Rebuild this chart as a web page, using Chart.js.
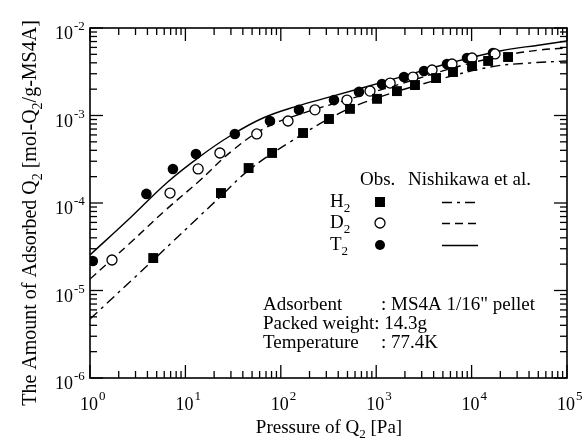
<!DOCTYPE html>
<html>
<head>
<meta charset="utf-8">
<script src="https://cdn.jsdelivr.net/npm/chart.js@4.4.0/dist/chart.umd.min.js"></script>
<style>
  html, body { margin: 0; padding: 0; background: #fff; }
  #wrap { position: relative; width: 583px; height: 440px; }
</style>
</head>
<body>
<div id="wrap"><canvas id="isotherm"></canvas></div>
<script>
// Observed adsorption amounts [mol-Q2/g-MS4A] vs pressure [Pa]
const h2Pressure = [4.6, 23.6, 46, 81, 171, 320, 531, 1020, 1650, 2550, 4240, 6380, 10100, 14900, 24100];
const h2Amount   = [2.35e-5, 1.30e-4, 2.51e-4, 3.73e-4, 6.31e-4, 9.12e-4, 1.19e-3, 1.55e-3, 1.90e-3, 2.23e-3, 2.68e-3, 3.14e-3, 3.68e-3, 4.20e-3, 4.66e-3];

const d2Pressure = [1.7, 6.9, 13.6, 23, 56, 119, 228, 494, 861, 1400, 2430, 3850, 6230, 10100, 17600];
const d2Amount   = [2.23e-5, 1.30e-4, 2.45e-4, 3.73e-4, 6.15e-4, 8.65e-4, 1.16e-3, 1.50e-3, 1.90e-3, 2.35e-3, 2.75e-3, 3.31e-3, 3.88e-3, 4.54e-3, 5.05e-3];

const t2Pressure = [1.07, 3.9, 7.4, 12.9, 33, 77, 155, 361, 660, 1150, 1955, 3170, 5520, 8950, 16750];
const t2Amount   = [2.17e-5, 1.27e-4, 2.45e-4, 3.63e-4, 6.15e-4, 8.65e-4, 1.16e-3, 1.50e-3, 1.86e-3, 2.29e-3, 2.75e-3, 3.23e-3, 3.88e-3, 4.54e-3, 5.18e-3];

// Nishikawa et al. correlation curves
const h2CurveP = [1, 4.26, 23.6, 46.4, 125, 418, 1096, 3664, 15600, 40900, 100000];
const h2CurveQ = [4.72e-6, 2.06e-5, 1.20e-4, 2.38e-4, 4.98e-4, 1.07e-3, 1.63e-3, 2.42e-3, 3.58e-3, 3.98e-3, 4.20e-3];

const d2CurveP = [1, 2.63, 6.2, 13.6, 31.6, 71.7, 188, 418, 1778, 7550, 23500, 52100, 100000];
const d2CurveQ = [1.35e-5, 3.49e-5, 8.3e-5, 1.74e-4, 4.04e-4, 7.40e-4, 1.10e-3, 1.43e-3, 2.29e-3, 3.68e-3, 4.91e-3, 5.61e-3, 5.91e-3];

const t2CurveP = [1, 2.63, 6.57, 14.2, 29.3, 65.1, 148, 328, 1395, 5936, 19850, 52100, 100000];
const t2CurveQ = [2.55e-5, 6.74e-5, 1.75e-4, 3.40e-4, 5.83e-4, 9.36e-4, 1.28e-3, 1.63e-3, 2.54e-3, 3.98e-3, 5.46e-3, 6.40e-3, 7.10e-3];

// axis decades and the minor steps inside each decade
const xExps = [0, 1, 2, 3, 4, 5];
const yExps = [-6, -5, -4, -3, -2];
const subSteps = [2, 3, 4, 5, 6, 7, 8, 9];

const SERIF = '"Liberation Serif", "DejaVu Serif", serif';

function pts(xs, ys) {
  return xs.map((v, i) => ({ x: v, y: ys[i] }));
}

// draws text made of runs; run.s = 'sub' | 'sup' | undefined
function richText(ctx, runs, x, y, size) {
  let cx = x;
  runs.forEach(r => {
    const small = r.s ? Math.round(size * 0.68) : size;
    ctx.font = small + 'px ' + SERIF;
    let dy = 0;
    if (r.s === 'sub') dy = size * 0.28;
    if (r.s === 'sup') dy = -size * 0.42;
    ctx.fillText(r.t, cx, y + dy);
    cx += ctx.measureText(r.t).width;
  });
  return cx - x;
}

function richWidth(ctx, runs, size) {
  let w = 0;
  runs.forEach(r => {
    ctx.font = (r.s ? Math.round(size * 0.68) : size) + 'px ' + SERIF;
    w += ctx.measureText(r.t).width;
  });
  return w;
}

const frame = {
  id: 'frame',
  afterDraw(chart) {
    const { ctx, chartArea: a, scales: { x, y } } = chart;
    ctx.save();
    ctx.fillStyle = '#000';
    ctx.strokeStyle = '#000';
    ctx.textBaseline = 'alphabetic';
    ctx.textAlign = 'left';

    // bottom / top: inward ticks and 10^n labels
    xExps.forEach((e, idx) => {
      const px = x.getPixelForValue(Math.pow(10, e));
      ctx.fillRect(px - 0.65, a.bottom - 13, 1.3, 13);
      ctx.fillRect(px - 0.65, a.top, 1.3, 13);
      if (idx !== xExps.length - 1) {
        subSteps.forEach(k => {
          const mx = x.getPixelForValue(k * Math.pow(10, e));
          ctx.fillRect(mx - 0.65, a.bottom - 7, 1.3, 7);
          ctx.fillRect(mx - 0.65, a.top, 1.3, 7);
        });
      }
      ctx.font = '18px ' + SERIF;
      const w = ctx.measureText('10').width;
      ctx.fillText('10', px - w / 2 - 1, a.bottom + 32);
      ctx.font = '13px ' + SERIF;
      ctx.fillText(String(e), px + w / 2, a.bottom + 22);
    });

    // left / right: inward ticks and 10^-n labels
    yExps.forEach((e, idx) => {
      const py = y.getPixelForValue(Math.pow(10, e));
      ctx.fillRect(a.left, py - 0.65, 13, 1.3);
      ctx.fillRect(a.right - 13, py - 0.65, 13, 1.3);
      if (idx !== yExps.length - 1) {
        subSteps.forEach(k => {
          const my = y.getPixelForValue(k * Math.pow(10, e));
          ctx.fillRect(a.left, my - 0.65, 7, 1.3);
          ctx.fillRect(a.right - 7, my - 0.65, 7, 1.3);
        });
      }
      ctx.font = '18px ' + SERIF;
      const w = ctx.measureText('10').width;
      ctx.fillText('10', 73 - w, py + 11);
      ctx.font = '13px ' + SERIF;
      ctx.fillText('-' + Math.abs(e), 74, py + 2);
    });

    // axis titles
    const xt = [{ t: 'Pressure of Q' }, { t: '2', s: 'sub' }, { t: ' [Pa]' }];
    const xw = richWidth(ctx, xt, 19);
    richText(ctx, xt, 329 - xw / 2, 433, 19);

    const yt = [{ t: 'The Amount of Adsorbed Q' }, { t: '2', s: 'sub' }, { t: ' [mol-Q' }, { t: '2', s: 'sub' }, { t: '/g-MS4A]' }];
    const yw = richWidth(ctx, yt, 20);
    ctx.save();
    ctx.translate(36, 213);
    ctx.rotate(-Math.PI / 2);
    richText(ctx, yt, -yw / 2, 0, 20);
    ctx.restore();

    // legend
    ctx.font = '19px ' + SERIF;
    ctx.fillText('Obs.', 360, 185);
    ctx.fillText('Nishikawa et al.', 408, 185);
    const rows = [
      { name: 'H', y: 207, mark: 'square', dash: [10, 5, 3, 5] },
      { name: 'D', y: 228, mark: 'open', dash: [8, 5] },
      { name: 'T', y: 250, mark: 'dot', dash: [] }
    ];
    rows.forEach(r => {
      richText(ctx, [{ t: r.name }, { t: '2', s: 'sub' }], 330, r.y, 19);
      const my = r.y - 5;
      ctx.lineWidth = 1.3;
      if (r.mark === 'square') {
        ctx.fillRect(375, my - 5, 10, 10);
      } else {
        ctx.beginPath();
        ctx.arc(380, my, 5, 0, Math.PI * 2);
        if (r.mark === 'dot') ctx.fill(); else ctx.stroke();
      }
      ctx.beginPath();
      ctx.setLineDash(r.dash);
      ctx.moveTo(442, my + 0.5);
      ctx.lineTo(478, my + 0.5);
      ctx.stroke();
      ctx.setLineDash([]);
    });

    // experiment conditions
    ctx.font = '19px ' + SERIF;
    ctx.fillText('Adsorbent', 263, 310);
    ctx.fillText(': MS4A 1/16" pellet', 381, 310);
    ctx.fillText('Packed weight: 14.3g', 263, 329);
    ctx.fillText('Temperature', 263, 348);
    ctx.fillText(': 77.4K', 381, 348);

    ctx.lineWidth = 1.6;
    ctx.strokeRect(a.left, a.top, a.right - a.left, a.bottom - a.top);

    ctx.restore();
  }
};

const markerBase = { showLine: false, borderColor: '#000', pointBorderColor: '#000' };
const curveBase = { showLine: true, pointRadius: 0, borderColor: '#000', borderWidth: 1.4, tension: 0.4, fill: false };

new Chart(document.getElementById('isotherm'), {
  type: 'scatter',
  data: {
    datasets: [
      { ...markerBase, label: 'H2 obs', data: pts(h2Pressure, h2Amount), pointStyle: 'rect', pointRadius: 7, pointBackgroundColor: '#000', pointBorderWidth: 0 },
      { ...markerBase, label: 'D2 obs', data: pts(d2Pressure, d2Amount), pointStyle: 'circle', pointRadius: 5, pointBackgroundColor: '#fff', pointBorderWidth: 1.3 },
      { ...markerBase, label: 'T2 obs', data: pts(t2Pressure, t2Amount), pointStyle: 'circle', pointRadius: 5.3, pointBackgroundColor: '#000', pointBorderWidth: 0 },
      { ...curveBase, label: 'H2 Nishikawa', data: pts(h2CurveP, h2CurveQ), borderDash: [10, 5, 3, 5] },
      { ...curveBase, label: 'D2 Nishikawa', data: pts(d2CurveP, d2CurveQ), borderDash: [8, 5] },
      { ...curveBase, label: 'T2 Nishikawa', data: pts(t2CurveP, t2CurveQ) }
    ]
  },
  options: {
    responsive: true,
    maintainAspectRatio: false,
    animation: false,
    layout: { padding: { left: 90, right: 16, top: 28, bottom: 62 } },
    plugins: { legend: { display: false }, tooltip: { enabled: false } },
    scales: {
      x: { type: 'logarithmic', min: 1, max: 100000, display: false },
      y: { type: 'logarithmic', min: 1e-6, max: 1e-2, display: false }
    }
  },
  plugins: [frame]
});
</script>
</body>
</html>
